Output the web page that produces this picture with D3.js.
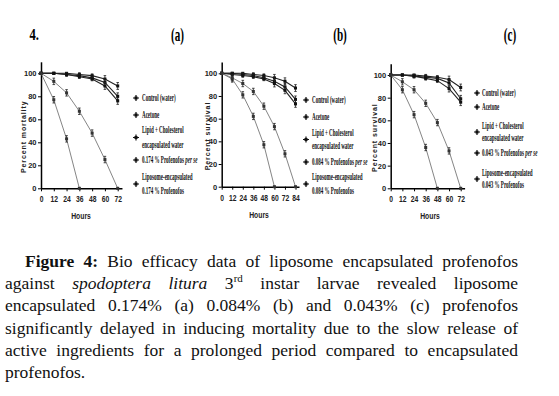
<!DOCTYPE html>
<html>
<head>
<meta charset="utf-8">
<script src="https://cdn.jsdelivr.net/npm/d3@7"></script>
<style>
  body { margin: 0; background: #fff; }
  #fig { position: relative; width: 559px; height: 396px; overflow: hidden; }
  svg { position: absolute; left: 0; top: 0; }
  .cap { position: absolute; left: 5px; width: 513px; font-family: "Liberation Serif", "Times New Roman", serif;
         font-size: 17.5px; line-height: 22px; white-space: nowrap; color: #111; }
  .cap.j { text-align: justify; text-align-last: justify; white-space: normal; }
</style>
</head>
<body>
<div id="fig"></div>
<script>

// ---- data ----
const hoursA = [0, 12, 24, 36, 48, 60, 72]
const hoursB = [0, 12, 24, 36, 48, 60, 72, 84]
const hoursC = [0, 12, 24, 36, 48, 60, 72]

const controlA = [100, 100, 100, 99, 98, 95, 89]
const acetoneA = [100, 100, 99, 98, 96, 92, 80]
const lipidA = [100, 100, 99, 97, 95, 89, 76]
const perseA = [100, 77, 43, 0]
const liposomeA = [100, 93, 83, 67, 48, 25, 0]

const controlB = [100, 100, 100, 99, 98, 96, 93, 87]
const acetoneB = [100, 100, 99, 98, 96, 93, 88, 77]
const lipidB = [100, 99, 98, 97, 95, 91, 85, 73]
const perseB = [100, 95, 81, 62, 37, 0]
const liposomeB = [100, 96, 91, 84, 71, 53, 29, 0]

const controlC = [100, 100, 100, 99, 98, 96, 89]
const acetoneC = [100, 100, 99, 98, 97, 93, 79]
const lipidC = [100, 100, 99, 97, 95, 88, 76]
const perseC = [100, 87, 65, 36, 0]
const liposomeC = [100, 94, 87, 75, 58, 33, 0]

const yTicks = [0, 20, 40, 60, 80, 100]
const doses = ['0.174', '0.084', '0.043']
const panelTags = ['(a)', '(b)', '(c)']
const yLabels = ['Percent mortality', 'Percent survival', 'Percent survival']

const W = 559, H = 396
const fig = d3.select('#fig')
const svg = fig.append('svg').attr('width', W).attr('height', H)

// pixel layout of each panel
const layout = [
  { x0: 41, x1: 117.7, xMax: 72, y0: 188.3, y100: 73.3, tag: [177.5, 41], ylab: 26, hours: 81,
    leg: { mx: 136, tx: 142, rows: [98, 115, [130, 145], 160, [177, 191]] } },
  { x0: 221.7, x1: 295.5, xMax: 84, y0: 186.7, y100: 73.3, tag: [340, 41], ylab: 210, hours: 259,
    leg: { mx: 306, tx: 312, rows: [100, 117, [133, 146], 162, [177, 191]] } },
  { x0: 390.7, x1: 460.7, xMax: 72, y0: 188.3, y100: 75, tag: [510, 41], ylab: 377, hours: 430,
    leg: { mx: 477, tx: 482, rows: [93, 107, [126, 138], 153, [173, 185]] } }
]

const panels = [
  { hours: hoursA, series: [controlA, acetoneA, lipidA, perseA, liposomeA] },
  { hours: hoursB, series: [controlB, acetoneB, lipidB, perseB, liposomeB] },
  { hours: hoursC, series: [controlC, acetoneC, lipidC, perseC, liposomeC] }
]

const narrow = 'Liberation Sans Narrow, Liberation Sans, sans-serif'

// figure number
svg.append('text')
  .attr('transform', 'translate(29.5,40) scale(0.72,1)')
  .attr('font-family', 'Liberation Serif').attr('font-weight', 'bold')
  .attr('font-size', 17.5).text('4.')

panels.forEach((p, i) => {
  const L = layout[i]
  const x = d3.scaleLinear().domain([0, L.xMax]).range([L.x0, L.x1])
  const y = d3.scaleLinear().domain([0, 100]).range([L.y0, L.y100])
  const g = svg.append('g')

  // axes (drawn a little past the last tick, like the original)
  const xAx = x.copy().domain([0, L.xMax + 4]).range([L.x0, x(L.xMax + 4)])
  const yAx = y.copy().domain([0, 110]).range([L.y0, y(110)])

  g.append('g')
    .attr('transform', `translate(0,${L.y0})`)
    .call(d3.axisBottom(xAx).tickValues(p.hours).tickSize(3).tickSizeOuter(0).tickPadding(4.5))
    .call(a => a.select('.domain').attr('stroke-width', 1.5))
    .call(a => a.selectAll('.tick line').attr('stroke-width', 1))
    .call(a => a.selectAll('text').attr('font-family', narrow).attr('transform', 'scale(0.75,1)')
      .attr('font-weight', 'bold').attr('font-size', 9).attr('fill', '#222'))

  g.append('g')
    .attr('transform', `translate(${L.x0},0)`)
    .call(d3.axisLeft(yAx).tickValues(yTicks).tickSize(3).tickSizeOuter(0).tickPadding(1.5))
    .call(a => a.select('.domain').attr('stroke-width', 1.5))
    .call(a => a.selectAll('.tick line').attr('stroke-width', 1))
    .call(a => a.selectAll('text').attr('font-family', narrow)
      .attr('font-weight', 'bold').attr('font-size', 7.5).attr('fill', '#222'))

  g.append('text')
    .attr('transform', `translate(${L.ylab},${(L.y0 + L.y100) / 2 + 6}) rotate(-90)`)
    .attr('text-anchor', 'middle')
    .attr('font-family', 'Liberation Sans').attr('font-weight', 'bold')
    .attr('font-size', 7).attr('letter-spacing', 0.9).attr('fill', '#222')
    .text(yLabels[i])

  g.append('text')
    .attr('transform', `translate(${L.hours},${L.y0 + 31}) scale(0.8,1)`)
    .attr('text-anchor', 'middle')
    .attr('font-family', narrow).attr('font-weight', 'bold')
    .attr('font-size', 8.5).attr('fill', '#222')
    .text('Hours')

  // lines, error bars and points
  p.series.forEach((vals, k) => {
    const pts = vals.map((v, j) => [p.hours[j], v])
    const falling = k >= 3
    g.append('path')
      .datum(pts)
      .attr('fill', 'none')
      .attr('stroke', falling ? '#666' : '#222')
      .attr('stroke-width', falling ? 0.8 : 1.1)
      .attr('d', d3.line().x(d => x(d[0])).y(d => y(d[1])))

    const err = pts.filter(d => d[1] > 0 && d[1] < 100)
    g.selectAll(null).data(err).join('path')
      .attr('stroke', '#222').attr('stroke-width', 0.8).attr('fill', 'none')
      .attr('d', d => {
        const e = falling ? 2.8 : (d[0] >= 60 ? 3 : 1.5)
        const cx = x(d[0]), t = y(d[1] + e), b = y(d[1] - e)
        return `M${cx - 1.3},${t}H${cx + 1.3}M${cx},${t}V${b}M${cx - 1.3},${b}H${cx + 1.3}`
      })

    g.selectAll(null).data(pts).join('rect')
      .attr('x', d => x(d[0]) - 1.5).attr('y', d => y(d[1]) - 1.5)
      .attr('width', 3).attr('height', 3)
      .attr('fill', falling ? '#333' : '#111')
  })

  // panel tag
  svg.append('text')
    .attr('transform', `translate(${L.tag[0]},${L.tag[1]}) scale(0.62,1)`)
    .attr('text-anchor', 'middle')
    .attr('font-family', 'Liberation Serif').attr('font-weight', 'bold').attr('font-size', 18)
    .text(panelTags[i])

  // legend
  const labels = [
    ['Control (water)'], ['Acetone'], ['Lipid + Cholesterol', 'encapsulated water'],
    [doses[i] + ' % Profenofos ', 'per se'], ['Liposome-encapsulated', doses[i] + ' % Profenofos']
  ]
  L.leg.rows.forEach((r, k) => {
    const rows = Array.isArray(r) ? r : [r]
    const my = (rows[0] + rows[rows.length - 1]) / 2
    g.append('path')
      .attr('stroke', '#111').attr('stroke-width', 1.2)
      .attr('d', `M${L.leg.mx - 3},${my}H${L.leg.mx + 3}M${L.leg.mx},${my - 3}V${my + 3}`)
    g.append('rect').attr('x', L.leg.mx - 1.5).attr('y', my - 1.5).attr('width', 3).attr('height', 3).attr('fill', '#111')

    const lab = labels[k]
    const tf = yy => `translate(${L.leg.tx},${yy + 3.2}) scale(0.48,1)`
    if (k === 3) {
      const t = g.append('text')
        .attr('transform', tf(rows[0]))
        .attr('font-family', 'Liberation Serif').attr('font-size', 10.5).attr('font-weight', 'bold').attr('fill', '#111')
      t.append('tspan').text(lab[0])
      t.append('tspan').attr('font-style', 'italic').text(lab[1])
    } else {
      lab.forEach((s, m) => {
        g.append('text')
          .attr('transform', tf(rows[m]))
          .attr('font-family', 'Liberation Serif').attr('font-size', 10.5).attr('font-weight', 'bold').attr('fill', '#111')
          .text(s)
      })
    }
  })
})

// caption
const capLines = [
  { top: 250, html: '<b>Figure 4:</b> Bio efficacy data of liposome encapsulated profenofos', j: true },
  { top: 272, html: 'against <i>spodoptera litura</i> 3<sup style="font-size:11px;line-height:0">rd</sup> instar larvae revealed liposome', j: true },
  { top: 294, html: 'encapsulated 0.174% (a) 0.084% (b) and 0.043% (c) profenofos', j: true },
  { top: 317, html: 'significantly delayed in inducing mortality due to the slow release of', j: true },
  { top: 339, html: 'active ingredients for a prolonged period compared to encapsulated', j: true },
  { top: 361, html: 'profenofos.', j: false }
]
fig.selectAll('div.cap').data(capLines).join('div')
  .attr('class', d => d.j ? 'cap j' : 'cap')
  .style('top', d => d.top + 'px')
  .style('padding-left', (d, i) => i === 0 ? '20px' : '0px')
  .style('width', (d, i) => i === 0 ? '493px' : '513px')
  .html(d => d.html)

</script>
</body>
</html>
